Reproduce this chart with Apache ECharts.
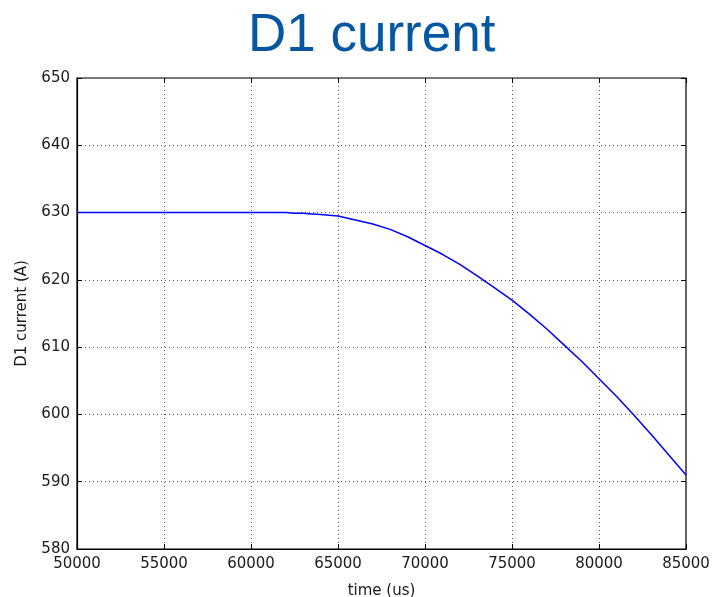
<!DOCTYPE html>
<html>
<head>
<meta charset="utf-8">
<script src="https://cdn.jsdelivr.net/npm/echarts@6/dist/echarts.min.js"></script>
<style>
  html, body { margin: 0; padding: 0; background: #fff; }
  #chart { width: 712px; height: 597px; }
</style>
</head>
<body>
<div id="chart"></div>
<script>
// Sampled diode current (A) against time (us)
const timeUs = [50000, 52000, 54000, 56000, 58000, 60000, 62000, 62500, 63000, 63500, 64000, 64500,
  65000, 65500, 66000, 67000, 68000, 69000, 70000, 71000, 72000, 73000, 74000, 75000,
  76000, 77000, 78000, 79000, 80000, 81000, 82000, 83000, 84000, 85000];
const currentA = [630.0, 630.0, 630.0, 630.0, 630.0, 630.0, 630.0, 629.9, 629.9, 629.8, 629.7, 629.6,
  629.5, 629.2, 628.9, 628.3, 627.5, 626.4, 625.1, 623.8, 622.3, 620.6, 618.8, 617.0,
  614.9, 612.7, 610.3, 607.9, 605.3, 602.7, 599.9, 597.0, 594.0, 591.0];

const xTicks = { min: 50000, max: 85000, step: 5000 };
const yTicks = { min: 580, max: 650, step: 10 };

const chart = echarts.init(document.getElementById('chart'), null, { renderer: 'canvas' });

const labelFont = { fontFamily: 'DejaVu Sans', fontSize: 15, color: '#1a1a1a' };
const tickStyle = { show: true, inside: true, length: 5, lineStyle: { color: '#000', width: 1 } };

chart.setOption({
  animation: false,
  title: {
    text: 'D1 current',
    left: 243,
    top: 5,
    textStyle: { fontFamily: 'Liberation Sans', fontSize: 53, fontWeight: 'normal', color: '#0557a2' }
  },
  grid: {
    left: 77, right: 26, top: 78, bottom: 48,
    containLabel: false, outerBoundsMode: 'none',
    show: true, borderColor: '#000', borderWidth: 1.2, backgroundColor: '#fff'
  },
  xAxis: [{
    type: 'value', min: xTicks.min, max: xTicks.max, interval: xTicks.step,
    name: 'time (us)', nameLocation: 'middle', nameGap: 35,
    nameTextStyle: labelFont,
    axisLine: { show: true, lineStyle: { color: '#000', width: 1.2 } },
    axisTick: tickStyle,
    axisLabel: Object.assign({ margin: 8, formatter: v => String(v) }, labelFont),
    splitLine: { show: true, lineStyle: { color: '#555', type: [1, 3], width: 1 } }
  }, {
    type: 'value', position: 'top', min: xTicks.min, max: xTicks.max, interval: xTicks.step,
    axisLine: { show: false }, axisTick: tickStyle, axisLabel: { show: false }, splitLine: { show: false }
  }],
  yAxis: [{
    type: 'value', min: yTicks.min, max: yTicks.max, interval: yTicks.step,
    name: 'D1 current (A)', nameLocation: 'middle', nameGap: 47, nameRotate: 90,
    nameTextStyle: labelFont,
    axisLine: { show: true, lineStyle: { color: '#000', width: 1.2 } },
    axisTick: tickStyle,
    axisLabel: Object.assign({ margin: 7 }, labelFont),
    splitLine: { show: true, lineStyle: { color: '#555', type: [1, 3], width: 1 } }
  }, {
    type: 'value', position: 'right', min: yTicks.min, max: yTicks.max, interval: yTicks.step,
    axisLine: { show: false }, axisTick: tickStyle, axisLabel: { show: false }, splitLine: { show: false }
  }],
  series: [{
    type: 'line',
    data: timeUs.map((t, i) => [t, currentA[i]]),
    showSymbol: false,
    lineStyle: { color: '#0000ff', width: 1.5 },
    clip: true
  }]
});
</script>
</body>
</html>
